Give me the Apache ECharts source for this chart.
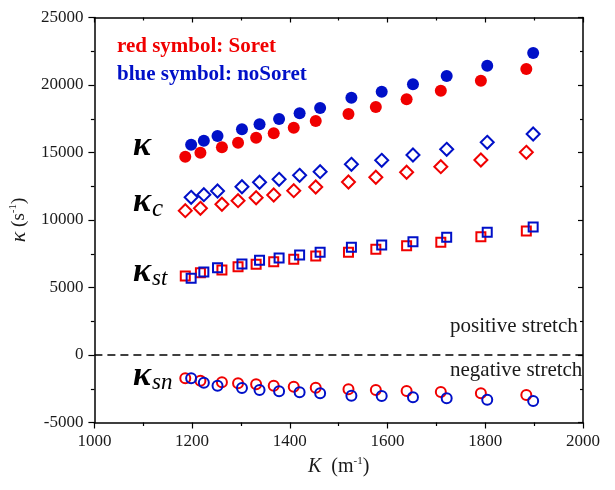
<!DOCTYPE html>
<html>
<head>
<meta charset="utf-8">
<script src="https://cdn.jsdelivr.net/npm/echarts@6/dist/echarts.min.js"></script>
<style>html,body{margin:0;padding:0;background:#fff;}#chart{width:615px;height:490px;}</style>
</head>
<body>
<div id="chart"></div>
<script>
// K values (m^-1)
var K_soret   = [1186,1217,1261,1294,1331,1367,1408,1453,1520,1576,1639,1709,1791,1884];
var K_nosoret = [1198,1224,1252,1302,1338,1378,1420,1462,1526,1588,1652,1721,1804,1898];
// kappa (s^-1)
var kappa_soret   = [14690,14985,15385,15725,16095,16420,16835,17335,17850,18370,18940,19580,20320,21185];
var kappa_nosoret = [15580,15875,16220,16720,17090,17480,17905,18295,19060,19505,20050,20665,21430,22370];
var kc_soret      = [10690,10865,11165,11430,11650,11850,12170,12445,12815,13165,13535,13950,14445,15015];
var kc_nosoret    = [11680,11875,12150,12465,12795,13015,13310,13580,14125,14420,14815,15235,15755,16370];
var kst_soret     = [5850,6095,6295,6540,6720,6910,7090,7335,7605,7830,8095,8350,8765,9185];
var kst_nosoret   = [5680,6150,6465,6740,7015,7185,7405,7605,7980,8150,8395,8720,9090,9480];
var ksn_soret     = [-1725,-1905,-2020,-2095,-2170,-2275,-2350,-2420,-2540,-2595,-2665,-2740,-2835,-2965];
var ksn_nosoret   = [-1725,-2050,-2275,-2445,-2595,-2690,-2765,-2835,-3015,-3035,-3135,-3205,-3310,-3405];

var RED = '#f00000', BLUE = '#0010c8';
var SERIF = '"Liberation Serif","Times New Roman",serif';

function pairs(xs, ys){ return xs.map(function(x,i){ return [x, ys[i]]; }); }

function filled(name, xs, ys, color){
  return {name:name, type:'scatter', data:pairs(xs,ys), symbol:'circle', symbolSize:12,
    itemStyle:{color:color, opacity:1}, z:3};
}
function open(name, xs, ys, color, sym, size){
  return {name:name, type:'scatter', data:pairs(xs,ys), symbol:sym, symbolSize:size,
    itemStyle:{color:'rgba(255,255,255,0)', borderColor:color, borderWidth:2, opacity:1}, z:3};
}

var axisTextStyle = {fontFamily:SERIF, fontSize:17, color:'#1a1a1a',
  formatter:function(v){ return String(v); }};

var series = [
  filled('kappa Soret', K_soret, kappa_soret, RED),
  filled('kappa noSoret', K_nosoret, kappa_nosoret, BLUE),
  open('kc Soret', K_soret, kc_soret, RED, 'diamond', 13),
  open('kc noSoret', K_nosoret, kc_nosoret, BLUE, 'diamond', 13),
  open('kst Soret', K_soret, kst_soret, RED, 'rect', 9),
  open('kst noSoret', K_nosoret, kst_nosoret, BLUE, 'rect', 9),
  open('ksn Soret', K_soret, ksn_soret, RED, 'circle', 10),
  open('ksn noSoret', K_nosoret, ksn_nosoret, BLUE, 'circle', 10)
];
series[0].markLine = {
  silent:true, symbol:['none','none'], label:{show:false},
  lineStyle:{type:[8,5], color:'#000', width:1.5},
  data:[{yAxis:0}]
};

var chart = echarts.init(document.getElementById('chart'), null, {renderer:'canvas'});
chart.setOption({
  animation:false,
  backgroundColor:'#fff',
  grid:{left:92, right:32, top:17.5, bottom:67.5, containLabel:false},
  xAxis:[{
    type:'value', min:1000, max:2000, interval:200, position:'bottom',
    axisLine:{show:true, onZero:false, lineStyle:{color:'#000', width:1.5}},
    axisTick:{show:true, inside:false, length:6, lineStyle:{color:'#000', width:1.2}},
    minorTick:{show:true, splitNumber:2, length:3.5, lineStyle:{color:'#000', width:1.2}},
    splitLine:{show:false},
    axisLabel:Object.assign({margin:11}, axisTextStyle),
    name:'{it|K}{n|  (m}{sup|-1}{n|)}', nameLocation:'middle', nameGap:31,
    nameTextStyle:{fontFamily:SERIF, rich:{
      it:{fontFamily:SERIF, fontStyle:'italic', fontSize:20, color:'#1a1a1a', lineHeight:22},
      n:{fontFamily:SERIF, fontSize:20, color:'#1a1a1a', lineHeight:22},
      sup:{fontFamily:SERIF, fontSize:11, color:'#1a1a1a', verticalAlign:'top', lineHeight:22}
    }}
  },{
    type:'value', min:1000, max:2000, interval:200, position:'top',
    axisLine:{show:true, onZero:false, lineStyle:{color:'#000', width:1.5}},
    axisTick:{show:true, inside:true, length:5, lineStyle:{color:'#000', width:1.2}},
    minorTick:{show:true, splitNumber:2, length:3, lineStyle:{color:'#000', width:1.2}},
    splitLine:{show:false}, axisLabel:{show:false}
  }],
  yAxis:[{
    type:'value', min:-5000, max:25000, interval:5000, position:'left',
    axisLine:{show:true, onZero:false, lineStyle:{color:'#000', width:1.5}},
    axisTick:{show:true, inside:false, length:6, lineStyle:{color:'#000', width:1.2}},
    minorTick:{show:true, splitNumber:2, length:3.5, lineStyle:{color:'#000', width:1.2}},
    splitLine:{show:false},
    axisLabel:Object.assign({margin:11}, axisTextStyle),
    name:'{it|κ}{n| (s}{sup|-1}{n|)}', nameLocation:'middle', nameGap:62,
    nameTextStyle:{fontFamily:SERIF, rich:{
      it:{fontFamily:SERIF, fontStyle:'italic', fontSize:22, color:'#1a1a1a', lineHeight:22},
      n:{fontFamily:SERIF, fontSize:19, color:'#1a1a1a', lineHeight:22},
      sup:{fontFamily:SERIF, fontSize:11, color:'#1a1a1a', verticalAlign:'top', lineHeight:22}
    }}
  },{
    type:'value', min:-5000, max:25000, interval:5000, position:'right',
    axisLine:{show:true, onZero:false, lineStyle:{color:'#000', width:1.5}},
    axisTick:{show:true, inside:true, length:5, lineStyle:{color:'#000', width:1.2}},
    minorTick:{show:true, splitNumber:2, length:3, lineStyle:{color:'#000', width:1.2}},
    splitLine:{show:false}, axisLabel:{show:false}
  }],
  series:series,
  graphic:[
    {type:'text', left:117, top:36, style:{text:'red symbol: Soret', fill:RED,
      font:'bold 21px '+SERIF}},
    {type:'text', left:117, top:64, style:{text:'blue symbol: noSoret', fill:BLUE,
      font:'bold 21px '+SERIF}},
    {type:'text', left:133, top:129, style:{text:'{k|κ}', rich:{
      k:{fontFamily:SERIF, fontStyle:'italic', fontWeight:'bold', fontSize:34, fill:'#000'}}}},
    {type:'text', left:133, top:185, style:{text:'{k|κ}{s|c}', rich:{
      k:{fontFamily:SERIF, fontStyle:'italic', fontWeight:'bold', fontSize:34, fill:'#000'},
      s:{fontFamily:SERIF, fontStyle:'italic', fontSize:25, fill:'#000', padding:[14,0,0,1]}}}},
    {type:'text', left:133, top:255, style:{text:'{k|κ}{s|st}', rich:{
      k:{fontFamily:SERIF, fontStyle:'italic', fontWeight:'bold', fontSize:34, fill:'#000'},
      s:{fontFamily:SERIF, fontStyle:'italic', fontSize:23, fill:'#000', padding:[14,0,0,1]}}}},
    {type:'text', left:133, top:359, style:{text:'{k|κ}{s|sn}', rich:{
      k:{fontFamily:SERIF, fontStyle:'italic', fontWeight:'bold', fontSize:34, fill:'#000'},
      s:{fontFamily:SERIF, fontStyle:'italic', fontSize:23, fill:'#000', padding:[14,0,0,1]}}}},
    {type:'text', left:450, top:316, style:{text:'positive stretch', fill:'#1a1a1a',
      font:'21px '+SERIF}},
    {type:'text', left:450, top:360, style:{text:'negative stretch', fill:'#1a1a1a',
      font:'21px '+SERIF}}
  ]
});
</script>
</body>
</html>
